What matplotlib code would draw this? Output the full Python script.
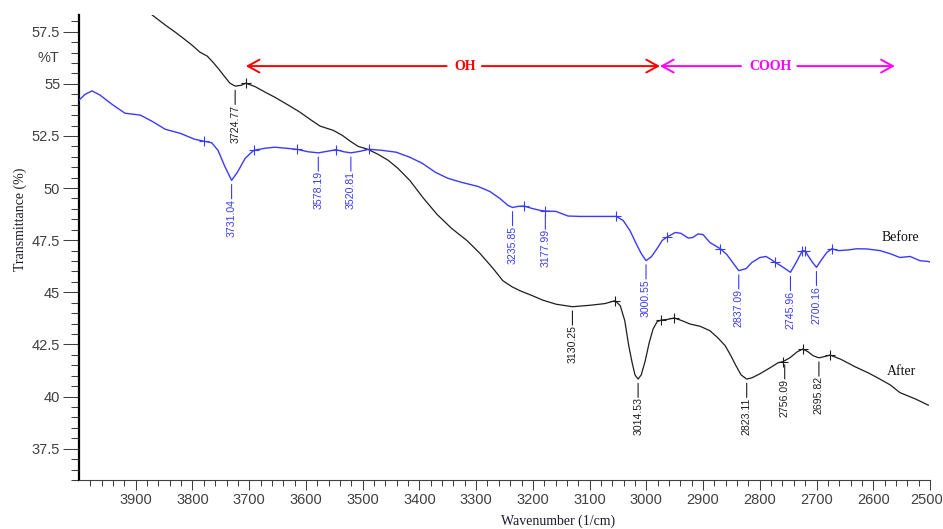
import numpy as np
import matplotlib
matplotlib.use("Agg")
import matplotlib.pyplot as plt
from matplotlib.ticker import FixedLocator
from matplotlib.transforms import ScaledTranslation

# FTIR spectra: wavenumber (1/cm) and transmittance (%)
before_wn = [4000, 3989, 3977, 3963, 3942, 3919, 3892, 3871, 3848, 3822, 3796, 3780, 3766,
             3755, 3743, 3731.04, 3721, 3707, 3692, 3672, 3655, 3635, 3616, 3596, 3578.19,
             3563, 3547, 3533, 3520.81, 3505, 3489, 3466, 3441, 3417, 3395, 3372, 3350, 3325,
             3297, 3276, 3258, 3244, 3235.85, 3226, 3216, 3201, 3187, 3177.99, 3159, 3138,
             3117, 3082, 3053, 3041, 3029, 3018, 3009, 3000.55, 2991, 2981, 2972, 2963.5,
             2949, 2939, 2926, 2918, 2909, 2900, 2888, 2870, 2858, 2845, 2837.09, 2824, 2814,
             2800, 2789, 2780, 2773, 2761, 2745.96, 2736, 2725, 2720, 2715, 2708, 2700.16,
             2691, 2682, 2673, 2662, 2645, 2629, 2611, 2588, 2571, 2553, 2535, 2518, 2503, 2500]
before_t = [54.22, 54.5, 54.66, 54.46, 54.02, 53.59, 53.5, 53.2, 52.82, 52.63, 52.34, 52.25,
            52.17, 51.81, 51.04, 50.37, 50.75, 51.43, 51.81, 51.91, 51.96, 51.91, 51.86,
            51.74, 51.69, 51.76, 51.84, 51.74, 51.69, 51.76, 51.86, 51.81, 51.72, 51.48,
            51.19, 50.76, 50.47, 50.27, 50.08, 49.84, 49.5, 49.17, 49.07, 49.12, 49.14,
            49.02, 48.93, 48.9, 48.88, 48.66, 48.64, 48.64, 48.64, 48.45, 47.97, 47.34,
            46.86, 46.52, 46.71, 47.1, 47.49, 47.65, 47.87, 47.83, 47.6, 47.63, 47.8, 47.77,
            47.39, 47.1, 46.81, 46.33, 46.04, 46.14, 46.43, 46.67, 46.72, 46.57, 46.44,
            46.24, 45.96, 46.43, 47.0, 46.98, 46.76, 46.47, 46.2, 46.57, 46.91, 47.09, 47.0,
            47.03, 47.09, 47.08, 47.0, 46.86, 46.67, 46.72, 46.52, 46.48, 46.45]

after_wn = [3871, 3848, 3831, 3817, 3801, 3787, 3774, 3764, 3755, 3744, 3734, 3724.77, 3714,
            3706, 3690, 3672, 3655, 3640, 3625, 3610, 3593, 3575, 3552, 3536, 3522, 3508,
            3491, 3473, 3455, 3438, 3417, 3394, 3369, 3343, 3316, 3293, 3270, 3253, 3237,
            3223, 3201, 3182, 3159, 3130.25, 3099, 3073, 3055, 3046, 3038, 3031, 3025, 3020,
            3014.53, 3009, 3002, 2995, 2988, 2981, 2974, 2963, 2951, 2937, 2923, 2905, 2888,
            2874, 2861, 2851, 2842, 2833, 2823.11, 2814, 2800, 2782, 2768, 2759, 2747, 2734,
            2724, 2715, 2706, 2695.82, 2687, 2676, 2658, 2632, 2609, 2593, 2570, 2553, 2526,
            2503]
after_t = [58.3, 57.82, 57.49, 57.2, 56.86, 56.52, 56.33, 56.04, 55.75, 55.37, 55.03, 54.89,
           54.93, 55.03, 54.87, 54.6, 54.36, 54.12, 53.88, 53.63, 53.3, 52.97, 52.77, 52.53,
           52.25, 52.0, 51.86, 51.62, 51.33, 50.95, 50.37, 49.55, 48.74, 48.06, 47.48, 46.86,
           46.14, 45.56, 45.27, 45.08, 44.84, 44.62, 44.43, 44.31, 44.38, 44.46, 44.6, 44.36,
           43.64, 42.44, 41.62, 41.04, 40.84, 41.04, 41.71, 42.58, 43.25, 43.59, 43.67, 43.7,
           43.77, 43.64, 43.48, 43.37, 43.16, 42.82, 42.44, 41.96, 41.48, 41.04, 40.84, 40.9,
           41.09, 41.38, 41.62, 41.68, 41.86, 42.15, 42.28, 42.15, 41.96, 41.86, 41.91, 41.99,
           41.8, 41.43, 41.14, 40.91, 40.56, 40.19, 39.89, 39.59]

# labelled peak positions and peak-pick marks
before_peaks = [3731.04, 3578.19, 3520.81, 3235.85, 3177.99, 3000.55, 2837.09, 2745.96, 2700.16]
after_peaks = [3724.77, 3130.25, 3014.53, 2823.11, 2756.09, 2695.82]
before_marks = [3780, 3692, 3616, 3547, 3489, 3216, 3177.99, 3053, 2963.5, 2870, 2773,
                2725, 2720, 2673]
after_marks = [3706, 3055, 2974, 2951, 2759, 2724, 2676]

# functional-group ranges
oh_range = (3706, 2976)
cooh_range = (2976, 2562)
band_y = 55.85

x_major = list(range(3900, 2499, -100))
y_major = [37.5, 40, 42.5, 45, 47.5, 50, 52.5, 55, 57.5]

BLUE = "#3a3aff"
BLACK = "#1e1e1e"
TICK = "#404040"
SANS = "Liberation Sans"
SERIF = "Liberation Serif"

fig = plt.figure(figsize=(9.43, 5.29), dpi=100)
ax = fig.add_axes([79 / 943, 1 - 480 / 529, 851 / 943, 465 / 529])

ax.plot(before_wn, before_t, color=BLUE, lw=1.0, zorder=3)
ax.plot(after_wn, after_t, color=BLACK, lw=0.9, zorder=3)


def curve_y(wn_list, t_list, x):
    return float(np.interp(x, wn_list[::-1], t_list[::-1]))


for marks, wn, t, col in [(before_marks, before_wn, before_t, BLUE),
                          (after_marks, after_wn, after_t, BLACK)]:
    ys = [curve_y(wn, t, m) for m in marks]
    ax.plot(marks, ys, ls="none", marker="+", ms=7, mew=0.8, color=col, zorder=4)

for peaks, wn, t, col in [(before_peaks, before_wn, before_t, BLUE),
                          (after_peaks, after_wn, after_t, BLACK)]:
    for p in peaks:
        y = curve_y(wn, t, p)
        ax.annotate("", xy=(p, y), xytext=(0, -13.2), textcoords="offset points",
                    arrowprops=dict(arrowstyle="-", color=col, lw=0.8,
                                    shrinkA=0, shrinkB=3.0))
        ax.annotate(f"{p:.2f}", xy=(p, y), xytext=(0, -13.2), textcoords="offset points",
                    rotation=90, ha="center", va="top", fontsize=7.6,
                    family=SANS, color=col)

# group range arrows
head = "->,head_length=0.6,head_width=0.33"
ax.annotate("", xy=(oh_range[0], band_y), xytext=(3352, band_y),
            arrowprops=dict(arrowstyle=head, color="red", lw=1.4,
                            shrinkA=0, shrinkB=0, mutation_scale=14))
ax.annotate("", xy=(oh_range[1], band_y), xytext=(3290, band_y),
            arrowprops=dict(arrowstyle=head, color="red", lw=1.4,
                            shrinkA=0, shrinkB=0, mutation_scale=14))
ax.text(3320, band_y, "OH", color="red", fontsize=10, fontweight="bold",
        family=SERIF, ha="center", va="center")
ax.annotate("", xy=(cooh_range[0], band_y), xytext=(2833, band_y),
            arrowprops=dict(arrowstyle=head, color="#ff00ff", lw=1.4,
                            shrinkA=0, shrinkB=0, mutation_scale=14))
ax.annotate("", xy=(cooh_range[1], band_y), xytext=(2734, band_y),
            arrowprops=dict(arrowstyle=head, color="#ff00ff", lw=1.4,
                            shrinkA=0, shrinkB=0, mutation_scale=14))
ax.text(2782, band_y, "COOH", color="#ff00ff", fontsize=10, fontweight="bold",
        family=SERIF, ha="center", va="center")

ax.text(2553, 47.64, "Before", fontsize=10, family=SERIF, color="#111111",
        ha="center", va="center")
ax.text(2551, 41.19, "After", fontsize=10, family=SERIF, color="#111111",
        ha="center", va="center")

# axes
ax.set_xlim(4000, 2500)
ax.set_ylim(36.0, 58.3)
ax.xaxis.set_major_locator(FixedLocator(x_major))
ax.xaxis.set_minor_locator(FixedLocator([v for v in range(3980, 2500, -20) if v % 100]))
ax.yaxis.set_major_locator(FixedLocator(y_major))
ax.yaxis.set_minor_locator(FixedLocator([v / 2 for v in range(72, 117) if (v / 2) % 2.5]))
ax.set_xticklabels([str(v) for v in x_major])
ax.set_yticklabels([f"{v:g}" for v in y_major])

ax.tick_params(axis="y", which="major", direction="out", length=11.5, width=0.75,
               color=TICK, pad=2, labelsize=10.5, labelcolor=TICK)
ax.tick_params(axis="y", which="minor", direction="out", length=5.8, width=0.75, color=TICK)
ax.tick_params(axis="x", which="major", direction="out", length=7, width=0.75,
               color=TICK, pad=2, labelsize=10.5, labelcolor=TICK)
ax.tick_params(axis="x", which="minor", direction="out", length=4.3, width=0.75, color=TICK)
for lab in ax.get_xticklabels() + ax.get_yticklabels():
    lab.set_family(SANS)
# keep the last wavenumber label inside the canvas
last = ax.get_xticklabels()[-1]
last.set_transform(last.get_transform() + ScaledTranslation(-3.5 / 100, 0, fig.dpi_scale_trans))

for side in ("top", "right"):
    ax.spines[side].set_visible(False)
ax.spines["left"].set_color("black")
ax.spines["left"].set_linewidth(1.6)
ax.spines["bottom"].set_color(TICK)
ax.spines["bottom"].set_linewidth(0.8)

ax.text(-19.5 / 851, 56.25, "%T", transform=ax.get_yaxis_transform(), ha="right",
        va="center", fontsize=10.5, family=SANS, color=TICK)

fig.text(20 / 943, 1 - 219.5 / 529, "Transmittance (%)", rotation=90, ha="center",
         va="center", fontsize=10, family=SERIF, color="#1a1a2a")
fig.text(558 / 943, 1 - 521.7 / 529, "Wavenumber (1/cm)", ha="center", va="center",
         fontsize=10, family=SERIF, color="#1a1a2a")

fig.savefig("out.png", dpi=100)
